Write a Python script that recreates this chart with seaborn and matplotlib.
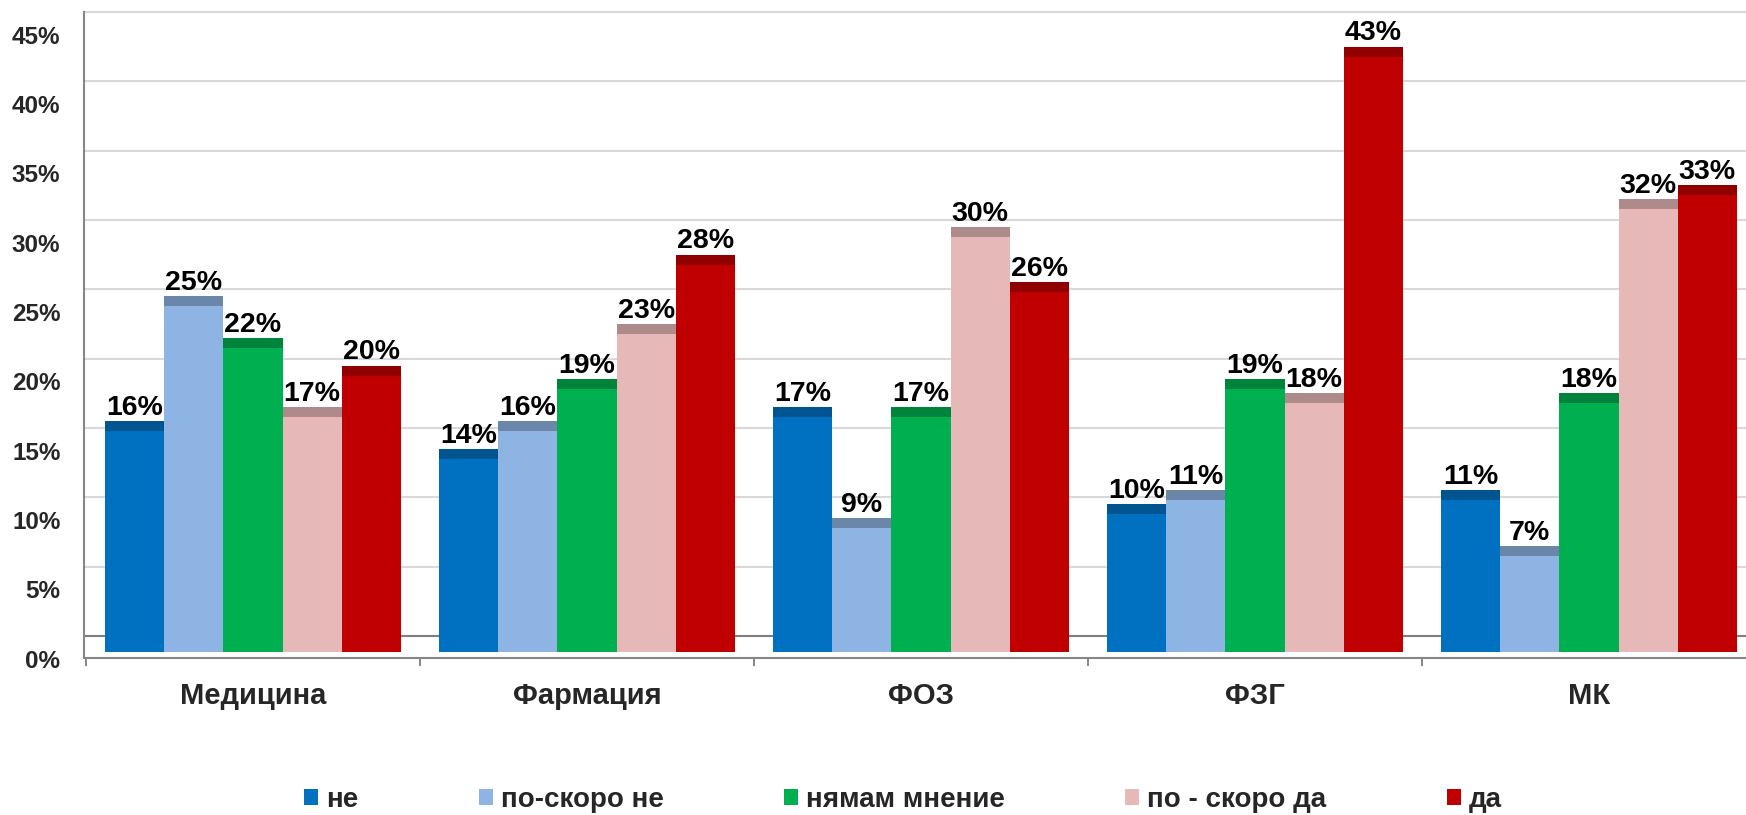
import numpy as np
import pandas as pd
import matplotlib
matplotlib.use('Agg')
import matplotlib.pyplot as plt
import seaborn as sns
from matplotlib.patches import Rectangle
from matplotlib.transforms import ScaledTranslation

# ---- data ----
faculties = ['Медицина', 'Фармация', 'ФОЗ', 'ФЗГ', 'МК']
answers = ['не', 'по-скоро не', 'нямам мнение', 'по - скоро да', 'да']
ne = [16, 14, 17, 10, 11]
po_skoro_ne = [25, 16, 9, 11, 7]
nyamam_mnenie = [22, 19, 17, 19, 18]
po_skoro_da = [17, 23, 30, 18, 32]
da = [20, 28, 26, 43, 33]
yticks = [0, 5, 10, 15, 20, 25, 30, 35, 40, 45]
colors = ['#0070C0', '#8DB4E2', '#00B050', '#E6B9B8', '#C00000']

series = [ne, po_skoro_ne, nyamam_mnenie, po_skoro_da, da]
rows = []
for ans, vals in zip(answers, series):
    for fac, v in zip(faculties, vals):
        rows.append({'faculty': fac, 'answer': ans, 'value': v})
df = pd.DataFrame(rows)

sns.set_style('white')
plt.rcParams['font.family'] = ['Liberation Sans', 'DejaVu Sans']
plt.rcParams['font.weight'] = 'bold'

W, H = 1746, 815
fig = plt.figure(figsize=(W / 100, H / 100), dpi=100)
px_per = 624 / 45.0
y0_px = 636
ybot = -(658 - y0_px) / px_per
ytop = 45.3
top_px = y0_px - ytop * px_per
ax = fig.add_axes([84 / W, 1 - 658 / H, 1 - 84 / W, (658 - top_px) / H])

sns.barplot(data=df, x='faculty', y='value', hue='answer', order=faculties,
            hue_order=answers, palette=colors, saturation=1, width=0.886,
            errorbar=None, linewidth=0, ax=ax)

ax.set_xlim(-0.506, 4.47)
ax.set_ylim(ybot, ytop)
ax.set_axisbelow(True)

# 3D-like styling: bar front face extends to floor, darker top cap
depth = 0.5
floor = -(652 - y0_px) / px_per
cap = 10 / px_per
for cont in ax.containers:
    for p in cont.patches:
        v = p.get_height()
        top = v - depth
        p.set_y(floor)
        p.set_height(top - floor)
        fc = np.array(p.get_facecolor()[:3])
        ax.add_patch(Rectangle((p.get_x(), top - cap), p.get_width(), cap,
                               facecolor=fc * 0.75, linewidth=0,
                               zorder=p.get_zorder() + 0.1))
        ax.annotate(f'{v:.0f}%', xy=(p.get_x() + p.get_width() / 2, top),
                    xytext=(0, 4.5), textcoords='offset points',
                    ha='center', va='baseline', fontsize=20.5,
                    fontweight='bold', color='black')

# grid & floor
ax.yaxis.grid(True, color='#D9D9D9', linewidth=1.5)
ax.xaxis.grid(False)
ax.axhline(0, color='#7F7F7F', linewidth=1.5, zorder=0.6)

ax.set_yticks(yticks)
ax.set_yticklabels([f'{t}%' for t in yticks], fontsize=17.5, fontweight='bold')
ax.tick_params(axis='y', length=0, pad=17)
off = ScaledTranslation(0, -0.225, fig.dpi_scale_trans)
for t in ax.yaxis.get_major_ticks():
    t.label1.set_transform(t.label1.get_transform() + off)

ax.tick_params(axis='x', which='major', length=0, pad=17, labelsize=21)
ax.set_xticks(np.arange(-0.5, 4.5, 1), minor=True)
ax.tick_params(axis='x', which='minor', length=5.8, width=1.4,
               color='#868686', direction='out', bottom=True)
for lbl in ax.get_xticklabels():
    lbl.set_fontweight('bold')
ax.set_xlabel('')
ax.set_ylabel('')

for s in ['top', 'right']:
    ax.spines[s].set_visible(False)
for s in ['left', 'bottom']:
    ax.spines[s].set_color('#868686')
    ax.spines[s].set_linewidth(1.5)
ax.spines['left'].set_bounds(ybot, 45)

sns.move_legend(ax, loc='center', bbox_to_anchor=(903 / W, 1 - 800 / H),
                bbox_transform=fig.transFigure, ncol=5, frameon=False,
                title=None, fontsize=20, handlelength=0.5, handleheight=0.5,
                handletextpad=0.29, columnspacing=4.34, borderpad=0,
                borderaxespad=0)
for txt in ax.get_legend().get_texts():
    txt.set_fontweight('bold')

fig.savefig('out.png', dpi=100)
